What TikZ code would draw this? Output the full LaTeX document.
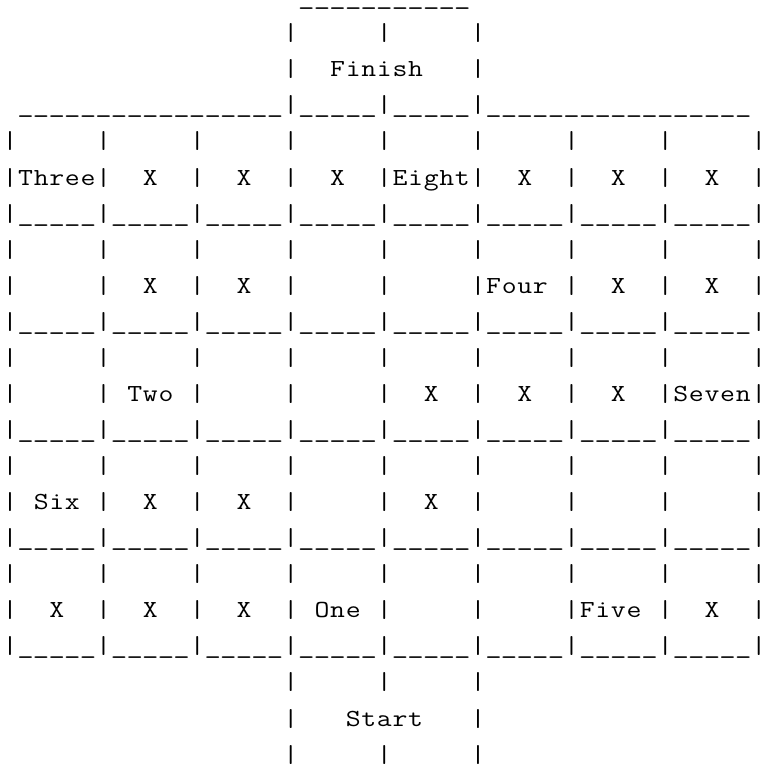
\documentclass[tikz,border=0pt]{standalone}
\usepackage{fontspec}
\usepackage{graphicx}
\newlength\cw
\setlength\cw{15.6pt}
% one monospace cell per character: '.' is a blank, '=' an underscore
\makeatletter
\newcommand\asc[1]{\asc@loop#1\relax}
\def\asc@loop#1{%
  \ifx#1\relax
  \else
    \ifx#1.\makebox[\cw]{}%
    \else\ifx#1=\makebox[\cw]{\scalebox{1.3}[1]{\_}}%
    \else\makebox[\cw]{\scalebox{1.18}[1]{#1}}%
    \fi\fi
    \expandafter\asc@loop
  \fi}
\makeatother
\tikzset{
  asciiline/.style={anchor=base west, inner sep=0pt, outer sep=0pt,
    font=\ttfamily\fontsize{24.5pt}{30pt}\selectfont, text=black}
}
\newcommand\lineat[1]{(2.2pt,{-(4.65pt+36.07pt*#1)})}
\begin{document}
\begin{tikzpicture}
\useasboundingbox (0pt,0pt) rectangle (760pt,-765pt);
\node[asciiline] (l0) at \lineat{0} {\asc{.......... ......... ========== =}};
\node[asciiline] (l1) at \lineat{1} {\asc{.......... ........ |.....|.....|}};
\node[asciiline] (l2) at \lineat{2} {\asc{.......... ........ |..Finish...|}};
\node[asciiline] (l3) at \lineat{3} {\asc{. ========== ======= |=====|=====| ========== =======}};
\node[asciiline] (l4) at \lineat{4} {\asc{|.....|.....|.....|.....|.....|.....|.....|.....|}};
\node[asciiline] (l5) at \lineat{5} {\asc{|Three|..X..|..X..|..X..|Eight|..X..|..X..|..X..|}};
\node[asciiline] (l6) at \lineat{6} {\asc{|=====|=====|=====|=====|=====|=====|=====|=====|}};
\node[asciiline] (l7) at \lineat{7} {\asc{|.....|.....|.....|.....|.....|.....|.....|.....|}};
\node[asciiline] (l8) at \lineat{8} {\asc{|.....|..X..|..X..|.....|.....|Four.|..X..|..X..|}};
\node[asciiline] (l9) at \lineat{9} {\asc{|=====|=====|=====|=====|=====|=====|=====|=====|}};
\node[asciiline] (l10) at \lineat{10} {\asc{|.....|.....|.....|.....|.....|.....|.....|.....|}};
\node[asciiline] (l11) at \lineat{11} {\asc{|.....|.Two.|.....|.....|..X..|..X..|..X..|Seven|}};
\node[asciiline] (l12) at \lineat{12} {\asc{|=====|=====|=====|=====|=====|=====|=====|=====|}};
\node[asciiline] (l13) at \lineat{13} {\asc{|.....|.....|.....|.....|.....|.....|.....|.....|}};
\node[asciiline] (l14) at \lineat{14} {\asc{|.Six.|..X..|..X..|.....|..X..|.....|.....|.....|}};
\node[asciiline] (l15) at \lineat{15} {\asc{|=====|=====|=====|=====|=====|=====|=====|=====|}};
\node[asciiline] (l16) at \lineat{16} {\asc{|.....|.....|.....|.....|.....|.....|.....|.....|}};
\node[asciiline] (l17) at \lineat{17} {\asc{|..X..|..X..|..X..|.One.|.....|.....|Five.|..X..|}};
\node[asciiline] (l18) at \lineat{18} {\asc{|=====|=====|=====|=====|=====|=====|=====|=====|}};
\node[asciiline] (l19) at \lineat{19} {\asc{.......... ........ |.....|.....|}};
\node[asciiline] (l20) at \lineat{20} {\asc{.......... ........ |...Start...|}};
\node[asciiline] (l21) at \lineat{21} {\asc{.......... ........ |.....|.....|}};
\end{tikzpicture}
\end{document}
